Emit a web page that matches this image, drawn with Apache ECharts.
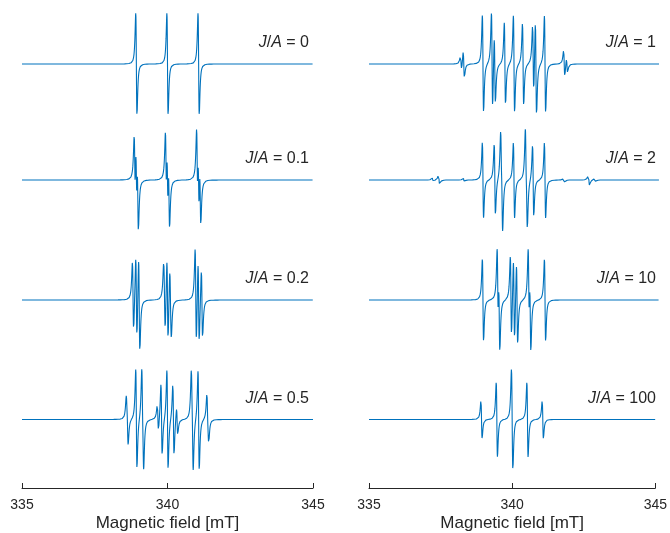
<!DOCTYPE html>
<html>
<head>
<meta charset="utf-8">
<script src="https://cdn.jsdelivr.net/npm/echarts@6/dist/echarts.min.js"></script>
<style>
  html, body { margin: 0; padding: 0; background: #ffffff; }
  #chart { width: 670px; height: 533px; }
</style>
</head>
<body>
<div id="chart"></div>
<script>
// Field axis (mT)
const fieldMin = 335;
const fieldMax = 345;
const fieldTicks = [335, 340, 345];
const axisTitle = 'Magnetic field [mT]';

// Exchange-to-hyperfine ratios shown in each panel
const ratiosLeft = ['0', '0.1', '0.2', '0.5'];
const ratiosRight = ['1', '2', '10', '100'];

// Resonance positions (mT) and relative intensities of each spectrum
const pos_0 = [338.930, 340.000, 341.070];
const amp_0 = [12, 12, 12];

const pos_01 = [338.874, 338.930, 338.981, 339.947, 340.000, 340.053, 341.019, 341.070, 341.126];
const amp_01 = [3.70, 4.00, 4.30, 4.00, 4.00, 4.00, 4.30, 4.00, 3.70];

const pos_02 = [338.812, 338.818, 338.930, 339.026, 339.032, 339.882, 339.904, 340.000,
                340.096, 340.118, 340.968, 340.974, 341.070, 341.182, 341.188];
const amp_02 = [1.608, 1.801, 4.000, 2.392, 2.199, 1.608, 2.392, 4.000,
                2.392, 1.608, 2.199, 2.392, 4.000, 1.801, 1.608];

const pos_05 = [338.599, 338.630, 338.930, 339.134, 339.165, 339.669, 339.796, 340.000,
                340.204, 340.331, 340.835, 340.866, 341.070, 341.371, 341.401];
const amp_05 = [1.106, 1.515, 4.000, 2.894, 2.485, 1.106, 2.894, 4.000,
                2.894, 1.106, 2.485, 2.894, 4.000, 1.515, 1.106];

const pos_1 = [338.173, 338.269, 338.930, 339.243, 339.339, 339.687, 340.000,
               340.313, 340.661, 340.757, 341.070, 341.731, 341.827];
const amp_1 = [0.586, 1.106, 4.000, 4.000, 2.894, 3.414, 4.000,
               3.414, 2.894, 4.000, 4.000, 1.106, 0.586];

const pos_2 = [337.199, 337.417, 338.269, 338.930, 339.339, 339.557, 339.591, 340.000,
               340.409, 340.443, 340.661, 341.070, 341.731, 342.583, 342.801];
const amp_2 = [0.211, 0.586, 0.211, 4.000, 3.789, 3.414, 3.789, 4.000,
               3.789, 3.414, 3.789, 4.000, 0.211, 0.586, 0.211];

const pos_10 = [338.930, 339.438, 339.492, 339.894, 340.000, 340.106, 340.508, 340.562, 341.070];
const amp_10 = [4.000, 3.990, 3.990, 3.961, 4.000, 3.961, 3.990, 3.990, 4.000];

const pos_100 = [338.930, 339.462, 339.468, 339.989, 340.000, 340.011, 340.532, 340.538, 341.070];
const amp_100 = [4, 4, 4, 4, 4, 4, 4, 4, 4];

const spectraLeft = [[pos_0, amp_0], [pos_01, amp_01], [pos_02, amp_02], [pos_05, amp_05]];
const spectraRight = [[pos_1, amp_1], [pos_2, amp_2], [pos_10, amp_10], [pos_100, amp_100]];

// Derivative Lorentzian line shape, peak-to-peak width in mT
const widthPP = 0.042;
const fieldStep = 0.0025;

function derivativeSpectrum(positions, amplitudes) {
  const gamma = widthPP * Math.sqrt(3) / 2;
  const pts = [];
  const n = Math.round((fieldMax - fieldMin) / fieldStep);
  for (let i = 0; i <= n; i++) {
    const b = fieldMin + i * fieldStep;
    let y = 0;
    for (let k = 0; k < positions.length; k++) {
      const u = (b - positions[k]) / gamma;
      y -= amplitudes[k] * u / ((1 + u * u) * (1 + u * u));
    }
    pts.push([b, y]);
  }
  return pts;
}

// Layout
const baselines = [64, 180, 300, 420];
const halfHeight = 55;
const axisY = 489;
const columns = [
  { left: 22, right: 357, labelRight: 361, ratios: ratiosLeft, spectra: spectraLeft },
  { left: 369, right: 11, labelRight: 14, ratios: ratiosRight, spectra: spectraRight }
];

const textColor = '#262626';
const fontFamily = '"Liberation Sans", Arial, Helvetica, sans-serif';

const grid = [], xAxis = [], yAxis = [], series = [], title = [];

columns.forEach((col, c) => {
  baselines.forEach((base, r) => {
    const idx = grid.length;
    const isBottom = r === baselines.length - 1;
    grid.push({ left: col.left, right: col.right, top: base - halfHeight, height: 2 * halfHeight });
    xAxis.push({
      gridIndex: idx,
      type: 'value',
      min: fieldMin,
      max: fieldMax,
      interval: 5,
      show: isBottom,
      offset: isBottom ? axisY - (base + halfHeight) : 0,
      axisLine: { show: true, onZero: false, lineStyle: { color: textColor, width: 1 } },
      axisTick: { show: true, inside: true, length: 5, lineStyle: { color: textColor } },
      axisLabel: {
        show: true, color: textColor, fontSize: 14, fontFamily: fontFamily, margin: 10,
        formatter: v => (fieldTicks.indexOf(v) >= 0 ? String(v) : '')
      },
      splitLine: { show: false },
      name: isBottom ? axisTitle : '',
      nameLocation: 'middle',
      nameGap: 27,
      nameTextStyle: { color: textColor, fontSize: 17, fontFamily: fontFamily }
    });
    yAxis.push({
      gridIndex: idx,
      type: 'value',
      show: false,
      scale: false,
      min: v => -Math.max(-v.min, v.max) * 1.08,
      max: v => Math.max(-v.min, v.max) * 1.08,
      splitLine: { show: false }
    });
    const sp = col.spectra[r];
    series.push({
      type: 'line',
      xAxisIndex: idx,
      yAxisIndex: idx,
      data: derivativeSpectrum(sp[0], sp[1]),
      showSymbol: false,
      symbol: 'none',
      silent: true,
      lineStyle: { color: '#0072BD', width: 1.1 },
      animation: false
    });
    title.push({
      text: '{i|J}/{i|A} = ' + col.ratios[r],
      right: col.labelRight,
      top: base - 29,
      padding: 0,
      textStyle: {
        color: textColor, fontSize: 16, fontWeight: 'normal', fontFamily: fontFamily,
        rich: { i: { fontStyle: 'italic', fontSize: 16, color: textColor, fontFamily: fontFamily } }
      }
    });
  });
});

const chart = echarts.init(document.getElementById('chart'), null, { renderer: 'canvas' });
chart.setOption({
  animation: false,
  backgroundColor: '#ffffff',
  title: title,
  grid: grid,
  xAxis: xAxis,
  yAxis: yAxis,
  series: series
});
</script>
</body>
</html>
